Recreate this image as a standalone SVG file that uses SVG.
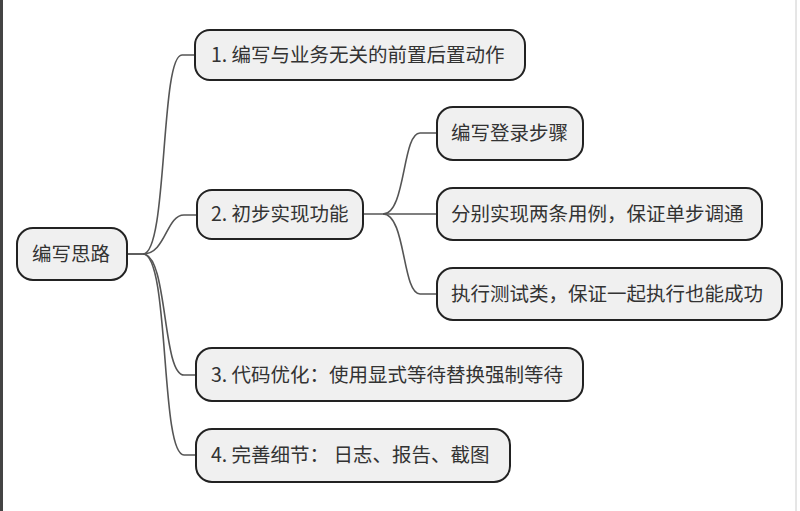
<svg xmlns="http://www.w3.org/2000/svg" width="800" height="511" viewBox="0 0 800 511">
<style>
.box{fill:#f0f0f0;stroke:#222;stroke-width:2}
.t{font-family:"Microsoft YaHei","Noto Sans CJK SC","Noto Sans",sans-serif;font-size:19.5px;fill:#333}
.c{fill:none;stroke:#555;stroke-width:1.6}
</style>
<rect x="0" y="0" width="800" height="511" fill="#fff"/>
<rect x="0" y="0" width="3" height="511" fill="#444"/>
<line x1="796" y1="0" x2="796" y2="511" stroke="#ccc" stroke-width="1"/>
<g id="connectors">
<path class="c" d="M127,254 H143 C168,254 160,55 182,55 H196"/>
<path class="c" d="M127,254 H143 C166,254 166,215 184,215 H197"/>
<path class="c" d="M143,254 C168,254 162,375 184,375 H196"/>
<path class="c" d="M143,254 C170,254 160,455 184,455 H196"/>
<path class="c" d="M363,214 H383 C406,214 402,133 420,133 H437"/>
<path class="c" d="M383,214 H437"/>
<path class="c" d="M383,214 C406,214 402,294 420,294 H437"/>
</g>
<g id="root"><rect class="box" x="17" y="228" width="110" height="52" rx="16"/><text class="t" x="32" y="261">编写思路</text></g>
<g id="n1"><rect class="box" x="195" y="30" width="330" height="50" rx="15"/><text class="t" x="211" y="62">1. 编写与业务无关的前置后置动作</text></g>
<g id="n2"><rect class="box" x="197" y="190" width="166" height="49" rx="15"/><text class="t" x="211" y="221">2. 初步实现功能</text></g>
<g id="n2a"><rect class="box" x="437" y="107" width="146" height="53" rx="16"/><text class="t" x="451" y="140">编写登录步骤</text></g>
<g id="n2b"><rect class="box" x="437" y="188" width="325" height="52" rx="16"/><text class="t" x="451" y="221">分别实现两条用例，保证单步调通</text></g>
<g id="n2c"><rect class="box" x="437" y="268" width="345" height="52" rx="16"/><text class="t" x="451" y="301">执行测试类，保证一起执行也能成功</text></g>
<g id="n3"><rect class="box" x="196" y="348" width="387" height="53" rx="16"/><text class="t" x="211" y="382">3. 代码优化：使用显式等待替换强制等待</text></g>
<g id="n4"><rect class="box" x="196" y="429" width="314" height="53" rx="16"/><text class="t" x="211" y="462">4. 完善细节： 日志、报告、截图</text></g>
</svg>
